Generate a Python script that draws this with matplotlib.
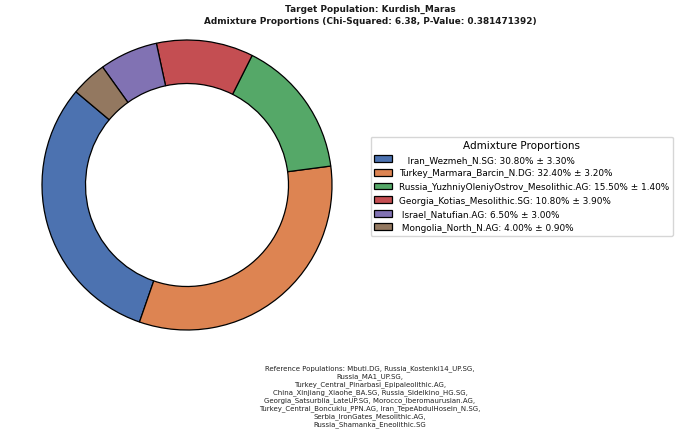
import matplotlib.pyplot as plt
import seaborn as sns

populations = [
    'Iran_Wezmeh_N.SG',
    'Turkey_Marmara_Barcin_N.DG',
    'Russia_YuzhniyOleniyOstrov_Mesolithic.AG',
    'Georgia_Kotias_Mesolithic.SG',
    'Israel_Natufian.AG',
    'Mongolia_North_N.AG',
]
proportions = [30.80, 32.40, 15.50, 10.80, 6.50, 4.00]
errors = [3.30, 3.20, 1.40, 3.90, 3.00, 0.90]
label_pad = ['   ', '', '', '', ' ', ' ']

target = 'Kurdish_Maras'
chi_squared = 6.38
p_value = 0.381471392
reference_pops = [
    'Mbuti.DG', 'Russia_Kostenki14_UP.SG', 'Russia_MA1_UP.SG',
    'Turkey_Central_Pinarbasi_Epipaleolithic.AG', 'China_Xinjiang_Xiaohe_BA.SG',
    'Russia_Sidelkino_HG.SG', 'Georgia_Satsurblia_LateUP.SG',
    'Morocco_Iberomaurusian.AG', 'Turkey_Central_Boncuklu_PPN.AG',
    'Iran_TepeAbdulHosein_N.SG', 'Serbia_IronGates_Mesolithic.AG',
    'Russia_Shamanka_Eneolithic.SG',
]
# line breaks of the reference footnote (number of populations per line)
ref_line_sizes = [2, 1, 1, 2, 2, 2, 1, 1]

colors = sns.color_palette('deep', len(populations))

fig = plt.figure(figsize=(6.8, 4.39), dpi=100)
ax = fig.add_axes([42 / 680, 1 - 331 / 439, 290 / 680, 290 / 439])

wedges, _ = ax.pie(
    proportions,
    colors=colors,
    startangle=140,
    wedgeprops=dict(width=0.3, edgecolor='black', linewidth=0.9),
)
ax.set_xlim(-1, 1)
ax.set_ylim(-1, 1)
ax.set_aspect('equal')

labels = [f'{pad}{p}: {v:.2f}% ± {e:.2f}%'
          for pad, p, v, e in zip(label_pad, populations, proportions, errors)]
fig.legend(
    wedges, labels,
    title='Admixture Proportions',
    loc='upper left',
    bbox_to_anchor=(368 / 680, 1 - 135 / 439),
    fontsize=6.4,
    title_fontsize=7.5,
    labelspacing=0.52,
    handleheight=0.8,
    borderaxespad=0.3,
)

fig.text(370 / 680, 1 - 5 / 439,
         f'Target Population: {target}\n'
         f'Admixture Proportions (Chi-Squared: {chi_squared}, P-Value: {p_value})',
         ha='center', va='top', fontsize=6.4, fontweight='bold',
         linespacing=1.35, color='#1a1a1a')

lines = []
i = 0
for n in ref_line_sizes:
    lines.append(', '.join(reference_pops[i:i + n]))
    i += n
ref_text = 'Reference Populations: ' + ',\n'.join(lines)
fig.text(370 / 680, 1 - 365 / 439, ref_text,
         ha='center', va='top', fontsize=5, color='#222222', linespacing=1.27)

fig.savefig('out.png', dpi=100)
